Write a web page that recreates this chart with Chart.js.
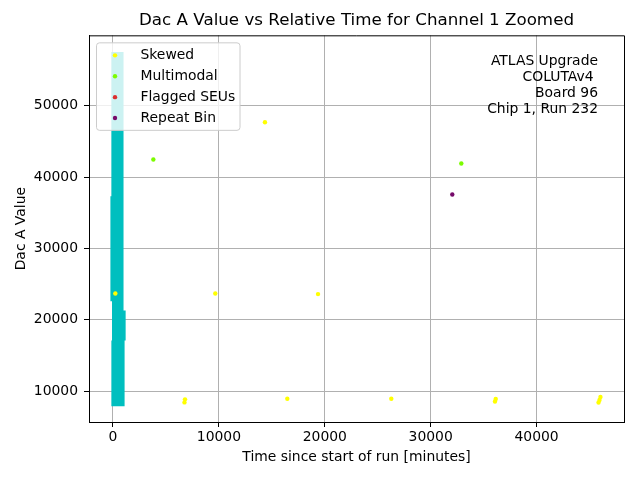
<!DOCTYPE html>
<html>
<head>
<meta charset="utf-8">
<script src="https://cdn.jsdelivr.net/npm/chart.js@4.4.1/dist/chart.umd.min.js"></script>
<style>
body { margin: 0; background: #fff; }
canvas { display: block; }
</style>
</head>
<body>
<canvas id="chart" width="640" height="480"></canvas>
<script>
// Values

// cyan spread of the raw readings near the start of the run
const spreadX    = [-150, -60, -60, 0, 100, 200, 300, 400, 500, 600, 700, 800, 900, 1000, 1100];
const spreadLow  = [22600, 22600, 7900, 7900, 7900, 7900, 7900, 7900, 7900, 7900, 7900, 7900, 7900, 7900, 17100];
const spreadHigh = [37300, 57500, 17100, 57500, 57500, 57500, 57500, 57500, 57500, 57500, 57500, 57500, 57500, 21300, 21300];

const skewedX = [220, 9660, 14350, 19360, 6800, 6750, 16460, 26280, 36140, 36070, 46030, 45940, 45850];
const skewedY = [23700, 23700, 47660, 23610, 8880, 8450, 8970, 8970, 8920, 8570, 9200, 8780, 8430];

const multimodalX = [3810, 32890];
const multimodalY = [42450, 41890];

const seuX = [];
const seuY = [];

const repeatX = [32040];
const repeatY = [37550];

const xTicks = [0, 10000, 20000, 30000, 40000];
const yTicks = [10000, 20000, 30000, 40000, 50000];

const infoLines = ['ATLAS Upgrade', 'COLUTAv4 ', 'Board 96', 'Chip 1, Run 232'];

const FONT = 'DejaVu Sans';

function toPoints(xs, ys) {
  return xs.map((x, i) => ({ x: x, y: ys[i] }));
}

// each spread entry becomes a vertical segment, broken by a null point
const spreadPoints = [];
spreadX.forEach((x, i) => {
  spreadPoints.push({ x: x, y: spreadLow[i] }, { x: x, y: spreadHigh[i] }, { x: x, y: null });
});

// legend box, spines and the info text, drawn on top of everything
const overlay = {
  id: 'overlay',
  afterDraw(chart) {
    const ctx = chart.ctx;
    const a = chart.chartArea;
    ctx.save();

    // top and right spines
    ctx.strokeStyle = 'black';
    ctx.lineWidth = 1;
    ctx.beginPath();
    ctx.moveTo(a.left, a.top + 0.5);
    ctx.lineTo(a.right + 0.5, a.top + 0.5);
    ctx.lineTo(a.right + 0.5, a.bottom);
    ctx.stroke();

    // legend
    const bx = a.left + 7.5, by = a.top + 7.5, bw = 143.5, bh = 87.5;
    ctx.beginPath();
    if (ctx.roundRect) ctx.roundRect(bx, by, bw, bh, 3); else ctx.rect(bx, by, bw, bh);
    ctx.fillStyle = 'rgba(255,255,255,0.8)';
    ctx.fill();
    ctx.strokeStyle = '#cccccc';
    ctx.stroke();

    ctx.font = '13.9px "' + FONT + '"';
    ctx.textBaseline = 'middle';
    ctx.textAlign = 'left';
    const items = chart.data.datasets.filter(d => d.label);
    items.forEach((d, i) => {
      const y = by + 12.5 + i * 20.9;
      ctx.beginPath();
      ctx.arc(bx + 18.5, y, 2.2, 0, Math.PI * 2);
      ctx.fillStyle = d.backgroundColor;
      ctx.fill();
      ctx.fillStyle = 'black';
      ctx.fillText(d.label, bx + 44, y);
    });

    // info text, top right
    ctx.textAlign = 'right';
    infoLines.forEach((t, i) => {
      ctx.fillText(t, a.right - 26, a.top + 26 + i * 16);
    });

    ctx.restore();
  }
};

const axisFont = { family: FONT, size: 13.9 };

new Chart(document.getElementById('chart').getContext('2d'), {
  type: 'scatter',
  data: {
    datasets: [{
      label: 'Skewed',
      data: toPoints(skewedX, skewedY),
      backgroundColor: '#ffff00',
      pointRadius: 2.2,
      borderWidth: 0
    }, {
      label: 'Multimodal',
      data: toPoints(multimodalX, multimodalY),
      backgroundColor: '#7cfc00',
      pointRadius: 2.2,
      borderWidth: 0
    }, {
      label: 'Flagged SEUs',
      data: toPoints(seuX, seuY),
      backgroundColor: '#dc2f2f',
      pointRadius: 2.2,
      borderWidth: 0
    }, {
      label: 'Repeat Bin',
      data: toPoints(repeatX, repeatY),
      backgroundColor: '#760a6a',
      pointRadius: 2.2,
      borderWidth: 0
    }, {
      label: '',
      data: spreadPoints,
      showLine: true,
      spanGaps: false,
      borderColor: '#00bfbf',
      backgroundColor: '#00bfbf',
      borderWidth: 2,
      pointRadius: 0
    }]
  },
  options: {
    responsive: false,
    animation: false,
    devicePixelRatio: 1,
    layout: { padding: { left: 0, right: 16, top: 0, bottom: 0 } },
    scales: {
      x: {
        type: 'linear',
        min: -2266,
        max: 48253,
        z: 1,
        afterBuildTicks: s => { s.ticks = xTicks.map(v => ({ value: v })); },
        afterFit: s => { s.height = 58; },
        ticks: { color: 'black', font: axisFont, padding: 2, callback: v => String(v) },
        grid: { color: '#b0b0b0', lineWidth: 1, tickColor: 'black', tickLength: 5 },
        border: { color: 'black', width: 1 },
        title: {
          display: true,
          text: 'Time since start of run [minutes]',
          color: 'black',
          font: axisFont,
          padding: { top: 0, bottom: 14.6 }
        }
      },
      y: {
        type: 'linear',
        min: 5706,
        max: 59832,
        z: 1,
        afterBuildTicks: s => { s.ticks = yTicks.map(v => ({ value: v })); },
        afterFit: s => { s.width = 89; },
        ticks: { color: 'black', font: axisFont, padding: 6, callback: v => String(v) },
        grid: { color: '#b0b0b0', lineWidth: 1, tickColor: 'black', tickLength: 5 },
        border: { color: 'black', width: 1 },
        title: {
          display: true,
          text: 'Dac A Value',
          color: 'black',
          font: axisFont,
          padding: { top: 12.6, bottom: 0 }
        }
      }
    },
    plugins: {
      legend: { display: false },
      tooltip: { enabled: false },
      title: {
        display: true,
        fullSize: false,
        text: 'Dac A Value vs Relative Time for Channel 1 Zoomed',
        color: 'black',
        font: { family: FONT, size: 16.7, weight: 'normal' },
        padding: { top: 11, bottom: 4.3 }
      }
    }
  },
  plugins: [overlay]
});
</script>
</body>
</html>
